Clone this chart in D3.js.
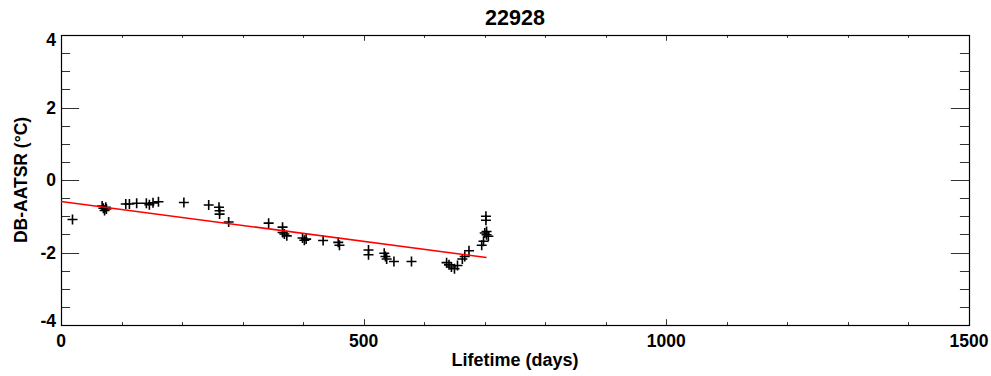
<!DOCTYPE html>
<html>
<head>
<meta charset="utf-8">
<script src="https://d3js.org/d3.v7.min.js"></script>
<style>
  body { margin: 0; background: #fff; }
  text { font-family: "Liberation Sans", Arial, sans-serif; font-weight: bold; }
</style>
</head>
<body>
<script>
// values
let days = [19, 68, 70, 72, 74, 75, 107, 113, 125, 141, 146, 152, 161, 203, 244, 261, 262, 262, 277,
            343, 366, 366, 369, 373, 399, 405, 402, 433, 458, 460, 508, 508, 534, 536, 538, 550, 579,
            637, 641, 645, 650, 655, 663, 667, 674, 695, 698, 700, 703, 706, 703, 702, 702];
let diffs = [-1.09, -0.72, -0.78, -0.84, -0.75, -0.80, -0.66, -0.66, -0.64, -0.64, -0.68, -0.63, -0.60, -0.62, -0.69, -0.75, -0.85, -0.94, -1.16,
             -1.19, -1.30, -1.45, -1.49, -1.54, -1.60, -1.63, -1.66, -1.67, -1.72, -1.80, -1.93, -2.06, -2.02, -2.11, -2.18, -2.25, -2.25,
             -2.28, -2.34, -2.40, -2.45, -2.36, -2.18, -2.11, -1.95, -1.80, -1.69, -1.46, -1.51, -1.55, -1.42, -1.11, -1.00];
let fitX = [0, 703];
let fitY = [-0.59, -2.14];
let xTicks = [0, 500, 1000, 1500];
let yTicks = [-4, -2, 0, 2, 4];
let title = "22928";

let canvasW = 991, canvasH = 376;
let pLeft = 61, pRight = 969, pTop = 35, pBottom = 325;

let svg = d3.select("body").append("svg")
  .attr("width", canvasW)
  .attr("height", canvasH);

let x = d3.scaleLinear().domain([0, 1500]).range([pLeft, pRight]);
let y = d3.scaleLinear().domain([-4, 4]).range([pBottom, pTop]);

let xLen = 0.02 * (pBottom - pTop);   // IDL style tick lengths
let yLen = 0.02 * (pRight - pLeft);

let xMinor = d3.range(0, 1501, 100);
let yMinor = d3.range(-4, 4.01, 0.5);

// ticks on all four sides
let axes = svg.append("g").attr("stroke", "#333").attr("stroke-width", 1);
xMinor.forEach(v => {
  let len = xTicks.includes(v) ? xLen : xLen / 2;
  let px = Math.round(x(v)) + 0.5;
  axes.append("line").attr("x1", px).attr("x2", px).attr("y1", pBottom).attr("y2", pBottom - len);
  axes.append("line").attr("x1", px).attr("x2", px).attr("y1", pTop).attr("y2", pTop + len);
});
yMinor.forEach(v => {
  let len = yTicks.includes(v) ? yLen : yLen / 2;
  let py = Math.round(y(v)) + 0.5;
  axes.append("line").attr("x1", pLeft).attr("x2", pLeft + len).attr("y1", py).attr("y2", py);
  axes.append("line").attr("x1", pRight).attr("x2", pRight - len).attr("y1", py).attr("y2", py);
});

svg.append("rect")
  .attr("x", pLeft + 0.5).attr("y", pTop + 0.5)
  .attr("width", pRight - pLeft).attr("height", pBottom - pTop)
  .attr("fill", "none").attr("stroke", "#000").attr("stroke-width", 1.2);

// tick labels
svg.selectAll(".xl").data(xTicks).enter().append("text")
  .attr("x", d => x(d)).attr("y", pBottom + 22)
  .attr("text-anchor", "middle").attr("font-size", "17.5px")
  .text(d => d);

// the end labels sit just inside the frame, as IDL draws them
svg.selectAll(".yl").data(yTicks).enter().append("text")
  .attr("x", pLeft - 5)
  .attr("y", d => y(d) + 6 + (d === 4 ? 5 : d === -4 ? -4.5 : 0))
  .attr("text-anchor", "end").attr("font-size", "17.5px")
  .text(d => d);

// data
let pts = days.map((d, i) => ({ d: d, v: diffs[i] }));
let s = 5;
svg.append("g").attr("stroke", "#000").attr("stroke-width", 1.6)
  .selectAll("path").data(pts).enter().append("path")
  .attr("d", p => {
    let cx = x(p.d), cy = y(p.v);
    return `M${cx - s},${cy}H${cx + s}M${cx},${cy - s}V${cy + s}`;
  });

svg.append("line")
  .attr("x1", x(fitX[0])).attr("y1", y(fitY[0]))
  .attr("x2", x(fitX[1])).attr("y2", y(fitY[1]))
  .attr("stroke", "#ff0000").attr("stroke-width", 1.5);

// titles
svg.append("text")
  .attr("x", (pLeft + pRight) / 2).attr("y", 25)
  .attr("text-anchor", "middle").attr("font-size", "21.5px")
  .text(title);

svg.append("text")
  .attr("x", (pLeft + pRight) / 2).attr("y", 366)
  .attr("text-anchor", "middle").attr("font-size", "18px")
  .text("Lifetime (days)");

svg.append("text")
  .attr("transform", `translate(27,${(pTop + pBottom) / 2}) rotate(-90)`)
  .attr("text-anchor", "middle").attr("font-size", "17.5px")
  .text("DB-AATSR (°C)");
</script>
</body>
</html>
